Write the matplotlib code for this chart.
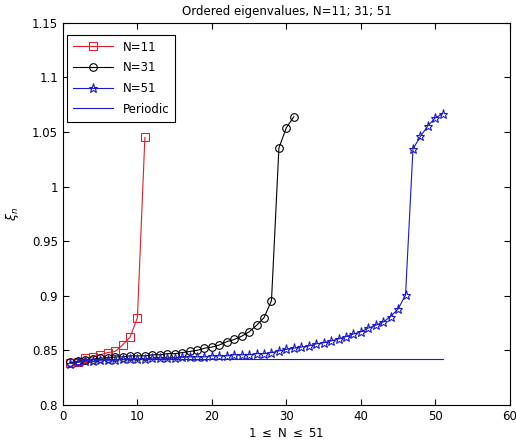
import matplotlib as mpl

mpl.use("Agg")
import matplotlib.pyplot as plt

plt.rcParams["font.family"] = ["DejaVu Sans"]
plt.rcParams["font.size"] = 8

# Data
n11_x = list(range(1, 12))
n11_y = [0.8385, 0.8395, 0.843, 0.844, 0.846, 0.848, 0.849, 0.855, 0.862, 0.880, 1.045]

n31_x = list(range(1, 32))
n31_y = [0.839, 0.840, 0.841, 0.842, 0.843, 0.843, 0.844, 0.844, 0.845, 0.845,
         0.845, 0.846, 0.846, 0.847, 0.847, 0.848, 0.849, 0.850, 0.852, 0.853,
         0.855, 0.858, 0.860, 0.863, 0.867, 0.873, 0.880, 0.8956, 1.0355, 1.054,
         1.064]

n51_x = list(range(1, 52))
n51_y = [0.838, 0.839, 0.840, 0.840, 0.841, 0.841, 0.841, 0.842, 0.842, 0.842,
         0.842, 0.843, 0.843, 0.843, 0.843, 0.844, 0.844, 0.844, 0.844, 0.845,
         0.845, 0.845, 0.846, 0.846, 0.846, 0.847, 0.847, 0.848, 0.8495, 0.851,
         0.852, 0.853, 0.854, 0.856, 0.857, 0.8587, 0.8605, 0.8626, 0.865, 0.867,
         0.8705, 0.873, 0.876, 0.881, 0.888, 0.9008, 1.0346, 1.046, 1.0557, 1.063,
         1.0667]

periodic_x = [1, 51]
periodic_y = [0.8425, 0.8425]

fig = plt.figure(figsize=(5.16, 4.48), dpi=100)
ax = fig.add_axes([0.122, 0.096, 0.866, 0.853])

ax.plot(n11_x, n11_y, color="#e0202a", marker="s", markersize=6,
        markerfacecolor="none", markeredgewidth=0.8, linewidth=0.8, label="N=11")
ax.plot(n31_x, n31_y, color="black", marker="o", markersize=5.5,
        markerfacecolor="none", markeredgewidth=0.8, linewidth=0.8, label="N=31")
ax.plot(n51_x, n51_y, color="#1a1acc", marker="*", markersize=6.5,
        markerfacecolor="none", markeredgewidth=0.8, linewidth=0.8, label="N=51")
ax.plot(periodic_x, periodic_y, color="#1a1acc", linewidth=0.8, label="Periodic")

ax.set_xlim(0, 60)
ax.set_ylim(0.8, 1.15)
ax.set_xticks(range(0, 61, 10))
ax.set_yticks([0.8, 0.85, 0.9, 0.95, 1.0, 1.05, 1.1, 1.15])
ax.set_yticklabels(["0.8", "0.85", "0.9", "0.95", "1", "1.05", "1.1", "1.15"])
ax.tick_params(direction="in", top=True, right=True, length=4, width=0.8,
               labelsize=8.5)
for s in ax.spines.values():
    s.set_linewidth(0.8)

ax.set_title("Ordered eigenvalues, N=11; 31; 51", fontsize=8.5, pad=6)
ax.set_xlabel(r"1 $\leq$ N $\leq$ 51", fontsize=8.5, labelpad=3)
ax.set_ylabel(r"$\xi_n$", fontsize=9, labelpad=8)

leg = ax.legend(loc="upper left", bbox_to_anchor=(0.009, 0.969), borderaxespad=0,
                fontsize=8.5, numpoints=1, fancybox=False, edgecolor="black",
                framealpha=1, handlelength=3.4, labelspacing=0.65,
                borderpad=0.5)
leg.get_frame().set_linewidth(0.8)

fig.savefig("out.png", dpi=100)
